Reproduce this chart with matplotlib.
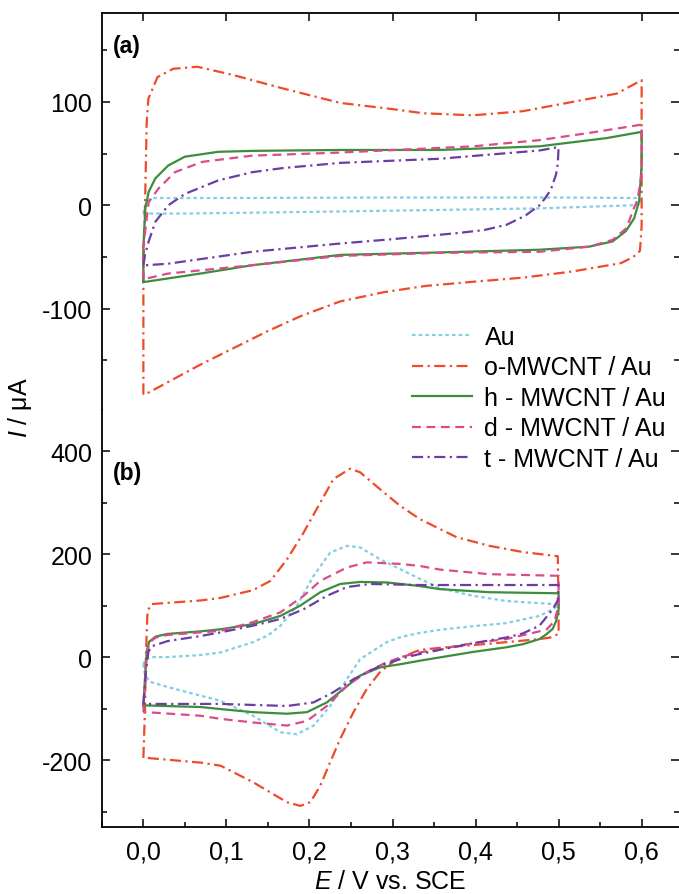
import matplotlib
matplotlib.use("Agg")
import matplotlib.pyplot as plt
from matplotlib.ticker import MultipleLocator, FuncFormatter, FixedLocator

plt.rcParams['font.family'] = ['Liberation Sans', 'DejaVu Sans']
plt.rcParams['axes.unicode_minus'] = False
plt.rcParams['mathtext.fontset'] = 'custom'
plt.rcParams['mathtext.it'] = 'Liberation Sans:italic'
plt.rcParams['mathtext.rm'] = 'Liberation Sans'

# ---- panel (a): blank electrolyte, 0..0.6 V ----
au_a_E = [0.0, 0.002, 0.006, 0.012, 0.1, 0.3, 0.5, 0.597, 0.6, 0.595, 0.589, 0.477, 0.237, 0.05, 0.005, 0.0]
au_a_I = [-8, 0, 5, 7, 7, 7.5, 7.5, 7, 3, 0.5, 0, -3, -6, -8, -8, -8]

o_a_E = [0.0, 0.0, 0.002, 0.004, 0.006, 0.017, 0.036, 0.065, 0.108, 0.168, 0.237, 0.30, 0.337, 0.397,
         0.457, 0.517, 0.570, 0.600, 0.600, 0.600, 0.598, 0.590, 0.575, 0.517, 0.457, 0.397, 0.340,
         0.290, 0.237, 0.190, 0.149, 0.069, 0.002, 0.0]
o_a_I = [-183, -60, 0, 80, 103, 124, 132, 134, 126, 113, 99, 93, 89, 87,
         91, 100, 108, 121, 60, -20, -44, -50, -56, -64, -70, -74, -78,
         -84, -93, -107, -122, -154, -183, -183]

h_a_E = [0.0, 0.0, 0.0024, 0.0064, 0.0144, 0.030, 0.050, 0.090, 0.131, 0.237, 0.357, 0.477, 0.558, 0.600,
         0.600, 0.597, 0.591, 0.581, 0.565, 0.537, 0.477, 0.357, 0.237, 0.131, 0.069, 0.003, 0.0]
h_a_I = [-74, -40, -3, 13, 26, 38.5, 47, 51.7, 52.6, 53.5, 53.5, 57, 65, 71,
         39, 4, -12.6, -25, -35, -40, -43, -45.6, -48, -58, -66, -74, -74]

d_a_E = [0.0, 0.0, 0.0064, 0.018, 0.038, 0.071, 0.131, 0.237, 0.317, 0.397, 0.477, 0.537,
         0.600, 0.600, 0.595, 0.589, 0.582, 0.565, 0.537, 0.477, 0.357, 0.237, 0.131, 0.030, 0.003, 0.0]
d_a_I = [-71, -40, 3, 16, 32, 42, 48, 51, 54, 57, 63, 70,
         78, 30, 5, -6, -22, -33.5, -40, -45, -46, -49, -58, -66, -71, -71]

t_a_E = [0.0, 0.002, 0.0064, 0.0144, 0.030, 0.050, 0.090, 0.131, 0.168, 0.237, 0.357, 0.477, 0.498,
         0.500, 0.499, 0.497, 0.492, 0.489, 0.483, 0.477, 0.46, 0.437, 0.41, 0.377, 0.297, 0.237,
         0.131, 0.030, 0.003, 0.0]
t_a_I = [-58, -48, -35, -16, 0, 11, 24, 32, 36, 41, 45, 53, 56,
         56, 40, 30, 18, 13, 6, 0, -10, -19, -24, -27, -33, -37,
         -45, -56.5, -58, -58]

# ---- panel (b): redox probe, 0..0.5 V ----
au_b_E = [0.0, 0.002, 0.008, 0.029, 0.069, 0.093, 0.132, 0.150, 0.165, 0.185, 0.205, 0.225, 0.245, 0.261,
          0.285, 0.309, 0.333, 0.357, 0.397, 0.437, 0.493, 0.500, 0.493, 0.477, 0.437, 0.397, 0.357,
          0.333, 0.310, 0.293, 0.261, 0.245, 0.225, 0.205, 0.185, 0.165, 0.132, 0.093, 0.069, 0.029,
          0.008, 0.002, 0.0]
au_b_I = [-15, -5, 0, 0, 4, 9, 29, 42, 61, 100, 158, 203, 216, 213,
          190, 171, 152, 134, 119, 109, 103, 100, 93, 80, 66, 60, 53,
          47, 39, 29, -4, -43, -95, -133, -150, -146, -114, -85, -75, -58,
          -48, -35, -15]

o_b_E = [0.0, 0.002, 0.003, 0.005, 0.01, 0.069, 0.093, 0.132, 0.153, 0.173, 0.193, 0.213, 0.229, 0.249,
         0.261, 0.285, 0.309, 0.333, 0.377, 0.417, 0.457, 0.499, 0.500, 0.500, 0.49, 0.477, 0.417,
         0.357, 0.333, 0.305, 0.285, 0.269, 0.253, 0.237, 0.225, 0.213, 0.201, 0.189, 0.173, 0.153,
         0.132, 0.093, 0.069, 0.005, 0.0]
o_b_I = [-196, -100, 0, 90, 103, 110, 115, 130, 148, 190, 242, 300, 346, 366,
         359, 326, 294, 268, 233, 216, 204, 196, 100, 45, 38, 35, 26,
         18, 14, -4, -29, -62, -107, -159, -204, -250, -282, -289, -282, -263,
         -243, -211, -205, -196, -196]

h_b_E = [0.0, 0.002, 0.004, 0.007, 0.015, 0.029, 0.069, 0.093, 0.132, 0.165, 0.189, 0.213, 0.237, 0.261,
         0.293, 0.333, 0.357, 0.417, 0.498, 0.500, 0.500, 0.497, 0.493, 0.485, 0.477, 0.457, 0.437,
         0.397, 0.333, 0.309, 0.285, 0.261, 0.241, 0.221, 0.197, 0.173, 0.132, 0.093, 0.069, 0.004,
         0.0]
h_b_I = [-94, -40, 10, 30, 40, 45, 50, 54, 64, 80, 100, 126, 142, 146,
         145, 138, 132, 126, 124, 124, 90, 70, 55, 44, 35, 25, 19,
         10, -7, -14, -20, -36, -62, -88, -107, -110, -107, -101, -97, -94,
         -94]

d_b_E = [0.0, 0.002, 0.004, 0.007, 0.015, 0.029, 0.069, 0.093, 0.132, 0.165, 0.193, 0.213, 0.245, 0.269,
         0.309, 0.333, 0.357, 0.417, 0.498, 0.500, 0.500, 0.495, 0.486, 0.477, 0.437, 0.397, 0.333,
         0.317, 0.293, 0.269, 0.245, 0.221, 0.197, 0.173, 0.132, 0.093, 0.069, 0.004, 0.0]
d_b_I = [-107, -50, 0, 28, 38, 43, 48, 51, 68, 87, 119, 148, 174, 184,
         181, 177, 170, 161, 158, 158, 100, 70, 54, 50, 35, 27, 9,
         3, -10, -29, -56, -95, -124, -133, -127, -120, -114, -107, -107]

t_b_E = [0.0, 0.003, 0.006, 0.01, 0.029, 0.069, 0.093, 0.132, 0.165, 0.193, 0.221, 0.245, 0.273, 0.333,
         0.498, 0.500, 0.499, 0.493, 0.477, 0.457, 0.437, 0.397, 0.357, 0.333, 0.317, 0.285, 0.253,
         0.229, 0.205, 0.173, 0.093, 0.004, 0.0]
t_b_I = [-91, -30, 10, 21, 31, 41, 48, 61, 74, 93, 119, 136, 142, 140,
         140, 140, 110, 93, 61, 46, 38, 27, 14, 6, 0, -17, -43,
         -68, -88, -95, -91, -91, -91]

labels = ['Au', 'o-MWCNT / Au', 'h - MWCNT / Au', 'd - MWCNT / Au', 't - MWCNT / Au']
colors = ['#82cde3', '#ee4b2b', '#3c8d3c', '#dc4a8c', '#6c3ea3']
styles = [(0, (1.6, 1.4)), (0, (5, 2, 1, 2)), '-', (0, (4, 2.5)), (0, (5, 2, 1, 2))]

fig = plt.figure(figsize=(6.79, 8.95), dpi=100)
ax_a = fig.add_axes([0.150, 0.5408, 0.85, 0.4436])
ax_b = fig.add_axes([0.150, 0.0749, 0.85, 0.4659])

curves_a = [(au_a_E, au_a_I), (o_a_E, o_a_I), (h_a_E, h_a_I), (d_a_E, d_a_I), (t_a_E, t_a_I)]
curves_b = [(au_b_E, au_b_I), (o_b_E, o_b_I), (h_b_E, h_b_I), (d_b_E, d_b_I), (t_b_E, t_b_I)]

handles = []
for (E, I), c, ls, lab in zip(curves_a, colors, styles, labels):
    ln, = ax_a.plot(E, I, color=c, ls=ls, lw=1.6, label=lab)
    handles.append(ln)
for (E, I), c, ls in zip(curves_b, colors, styles):
    ax_b.plot(E, I, color=c, ls=ls, lw=1.6)

comma = FuncFormatter(lambda v, p: f"{v:.1f}".replace('.', ','))

for ax in (ax_a, ax_b):
    ax.set_xlim(-0.05, 0.645)
    ax.spines['right'].set_visible(False)
    for s in ax.spines.values():
        s.set_linewidth(1.3)
    ax.xaxis.set_major_locator(MultipleLocator(0.1))
    ax.tick_params(which='both', direction='in', width=1.1, labelsize=18)
    ax.tick_params(which='major', length=6)
    ax.tick_params(which='minor', length=3.5)

ax_a.set_ylim(-198, 186)
ax_a.yaxis.set_major_locator(MultipleLocator(100))
ax_a.yaxis.set_minor_locator(MultipleLocator(50))
ax_a.spines['bottom'].set_visible(False)
ax_a.tick_params(axis='x', which='both', bottom=False, top=True, labelbottom=False)
ax_a.tick_params(axis='y', which='both', left=True, right=True, pad=7)

ax_b.set_ylim(-330, 480)
ax_b.yaxis.set_major_locator(FixedLocator([-200, 0, 200, 400]))
ax_b.yaxis.set_minor_locator(MultipleLocator(100))
ax_b.xaxis.set_minor_locator(MultipleLocator(0.05))
ax_b.xaxis.set_major_formatter(comma)
ax_b.spines['top'].set_visible(False)
ax_b.tick_params(axis='x', which='both', bottom=True, top=False, pad=9)
ax_b.tick_params(axis='y', which='both', left=True, right=True, pad=7)

fig.text(390 / 679, 1 - 889 / 895, r'$\mathit{E}$ / V vs. SCE', fontsize=18,
         ha='center', va='baseline')
fig.text(0.030, 1 - 408 / 895, r'$\mathit{I}$ / μA', rotation=90,
         ha='center', va='center', fontsize=18)

fig.text(113 / 679, 1 - 46 / 895, '(a)', fontsize=16.5, fontweight='bold', ha='left', va='center')
fig.text(113 / 679, 1 - 474 / 895, '(b)', fontsize=16.5, fontweight='bold', ha='left', va='center')

fig.legend(handles, labels, loc='upper left', bbox_to_anchor=(412 / 679, 1 - 326 / 895),
           frameon=False, fontsize=18, handlelength=2.4, handletextpad=0.5,
           labelspacing=0.26, borderpad=0, borderaxespad=0)

fig.savefig('out.png', dpi=100)
